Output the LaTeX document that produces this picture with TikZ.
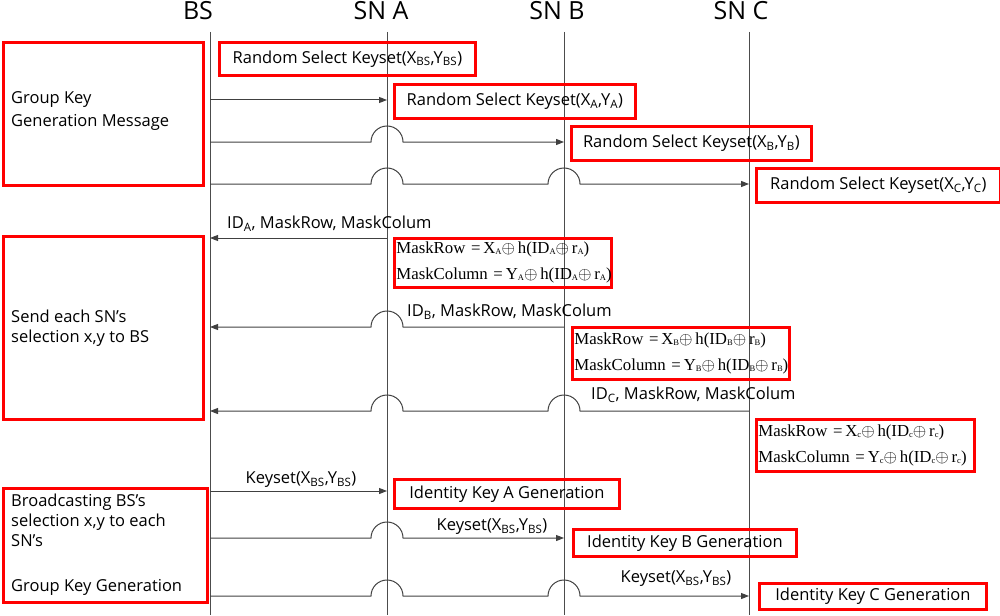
\documentclass[tikz,border=0pt]{standalone}
\usepackage{fontspec}
\setmainfont{Open Sans}
\newfontfamily\serifA{Liberation Serif}
\usetikzlibrary{arrows.meta,calc}
\newcommand\hopR[2]{-- ($(#1|-0,#2)-(16,0)$) arc[start angle=180,end angle=0,radius=16pt]}
\newcommand\hopL[2]{-- ($(#1|-0,#2)+(16,0)$) arc[start angle=0,end angle=180,radius=16pt]}
\newcommand\msub[1]{\raisebox{-1pt}{\fontsize{8.5}{8.5}\selectfont #1}}
\newcommand\mrow[1]{MaskRow\,\,=\,X\msub{#1}$\oplus$\,h(ID\msub{#1}$\oplus$\,r\msub{#1})}
\newcommand\mcol[1]{MaskColumn\,\,=\,Y\msub{#1}$\oplus$\,h(ID\msub{#1}$\oplus$\,r\msub{#1})}
\begin{document}
\begin{tikzpicture}[x=1pt,y=-1pt,
  lbl/.style={font=\fontsize{16.5}{19}\selectfont, inner sep=0pt},
  hdr/.style={font=\fontsize{25}{28}\selectfont, inner sep=0pt},
  rbox/.style={draw=red, line width=2.8pt, inner sep=0pt, anchor=north west, font=\fontsize{16.5}{19}\selectfont},
  life/.style={draw=black!70, line width=1pt},
  msg/.style={draw=black!75, line width=1pt, -{Triangle[length=8pt,width=6pt]}},
  mbox/.style={rbox, font=\serifA\fontsize{16.8}{26}\selectfont, align=left, inner xsep=2pt, text width=213pt},
  side/.style={lbl, anchor=west, align=left, font=\fontsize{16.5}{20}\selectfont}
]
\useasboundingbox (0,0) rectangle (1000,615);
% headers
\node[hdr] (hBS) at (198,11) {BS};
\node[hdr] (hA) at (381,11) {SN A};
\node[hdr] (hB) at (557,11) {SN B};
\node[hdr] (hC) at (741,11) {SN C};
% lifelines
\coordinate (xBS) at (210,32);
\coordinate (xA) at (387,32);
\coordinate (xB) at (564,32);
\coordinate (xC) at (749,32);
\draw[life] (xBS) -- (xBS|-0,615);
\draw[life] (xA) -- (xA|-0,615);
\draw[life] (xB) -- (xB|-0,615);
\draw[life] (xC) -- (xC|-0,615);
% left boxes
\node[rbox, minimum width=200pt, minimum height=143pt] (L1) at (2,41) {};
\node[side, font=\fontsize{16.5}{23}\selectfont] (L1t) at (11,111) {Group Key\\Generation Message};
\node[rbox, minimum width=200pt, minimum height=183pt] (L2) at (2,235) {};
\node[side] (L2t) at (11,328) {Send each SN’s\\selection x,y to BS};
\node[rbox, minimum width=204pt, minimum height=114pt] (L3) at (2,487) {};
\node[side] (L3t) at (11,520) {Broadcasting BS’s\\selection x,y to each\\SN’s};
\node[side] (L3u) at (11,587) {Group Key Generation};
% top boxes
\node[rbox, minimum width=256pt, minimum height=33pt] (KBS) at (218,41) {Random Select Keyset(X\textsubscript{BS},Y\textsubscript{BS})};
\node[rbox, minimum width=241pt, minimum height=34pt] (KA) at (393,83) {Random Select Keyset(X\textsubscript{A},Y\textsubscript{A})};
\node[rbox, minimum width=240pt, minimum height=34pt] (KB) at (570,125) {Random Select Keyset(X\textsubscript{B},Y\textsubscript{B})};
\node[rbox, minimum width=244pt, minimum height=34pt] (KC) at (755,167) {Random Select Keyset(X\textsubscript{C},Y\textsubscript{C})};
% messages 1-3
\draw[msg] (xBS|-0,100) -- (xA|-0,100);
\draw[msg] (xBS|-0,142) \hopR{xA}{142} -- (xB|-0,142);
\draw[msg] (xBS|-0,184) \hopR{xA}{184} \hopR{xB}{184} -- (xC|-0,184);
% messages 4-6
\draw[msg] (xA|-0,238) -- (xBS|-0,238);
\node[lbl, anchor=west] (m4) at (227,224) {ID\textsubscript{A}, MaskRow, MaskColum};
\node[mbox, minimum height=49pt] (MA) at (393,237) {\mrow{A}\\\mcol{A}};
\draw[msg] (xB|-0,327) \hopL{xA}{327} -- (xBS|-0,327);
\node[lbl, anchor=west] (m5) at (407,312) {ID\textsubscript{B}, MaskRow, MaskColum};
\node[mbox, minimum height=52pt] (MB) at (571,326) {\mrow{B}\\\mcol{B}};
\draw[msg] (xC|-0,411) \hopL{xB}{411} \hopL{xA}{411} -- (xBS|-0,411);
\node[lbl, anchor=west] (m6) at (591,395) {ID\textsubscript{C}, MaskRow, MaskColum};
\node[mbox, minimum height=52pt, text width=214pt] (MC) at (755,418) {\mrow{c}\\\mcol{c}};
% messages 7-9
\draw[msg] (xBS|-0,491) -- (xA|-0,491);
\node[lbl] (m7) at (301,480) {Keyset(X\textsubscript{BS},Y\textsubscript{BS})};
\node[rbox, minimum width=225pt, minimum height=29pt] (IA) at (393,478) {Identity Key A Generation};
\draw[msg] (xBS|-0,538) \hopR{xA}{538} -- (xB|-0,538);
\node[lbl] (m8) at (492,527) {Keyset(X\textsubscript{BS},Y\textsubscript{BS})};
\node[rbox, minimum width=223pt, minimum height=27pt] (IB) at (572,528) {Identity Key B Generation};
\draw[msg] (xBS|-0,596) \hopR{xA}{596} \hopR{xB}{596} -- (xC|-0,596);
\node[lbl] (m9) at (676,579) {Keyset(X\textsubscript{BS},Y\textsubscript{BS})};
\node[rbox, minimum width=227pt, minimum height=26pt] (IC) at (758,582) {Identity Key C Generation};
\end{tikzpicture}
\end{document}
